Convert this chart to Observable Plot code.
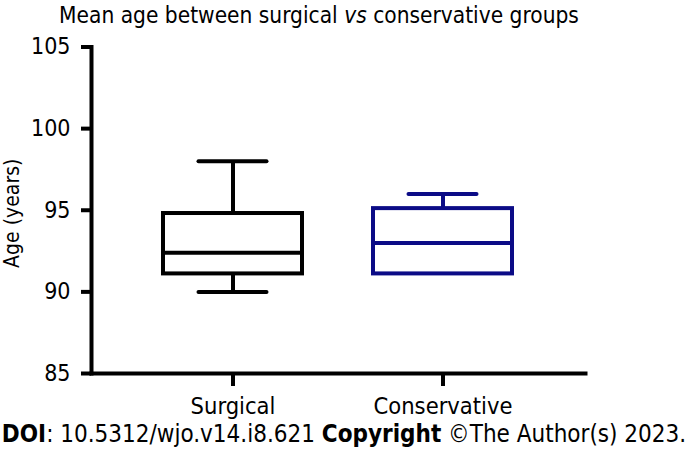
<!DOCTYPE html>
<html>
<head>
<meta charset="utf-8">
<script src="https://cdn.jsdelivr.net/npm/d3@7"></script>
<script src="https://cdn.jsdelivr.net/npm/@observablehq/plot@0.6"></script>
<style>
  html, body { margin: 0; padding: 0; background: white; }
  body { width: 688px; height: 453px; overflow: hidden; font-family: "DejaVu Sans Condensed", "DejaVu Sans", sans-serif; color: black; }
  #title { height: 32px; width: 638px; text-align: center; font-size: 22.5px; line-height: 30px; white-space: nowrap; }
  #chart svg { display: block; }
  #footer { height: 36px; width: 688px; text-align: center; font-size: 24px; line-height: 34px; white-space: nowrap; }
</style>
</head>
<body>
<div id="title">Mean age between surgical <i>vs</i> conservative groups</div>
<div id="chart"></div>
<div id="footer"><b>DOI</b>: 10.5312/wjo.v14.i8.621 <b>Copyright</b> ©The Author(s) 2023.</div>
<script>
const groups = ["Surgical", "Conservative"];
const whiskerLow = [90, 91.1];
const q1 = [91.1, 91.1];
const medians = [92.4, 93];
const q3 = [94.8, 95.1];
const whiskerHigh = [98, 96];
const colors = ["#000000", "#0b0b86"];
const yTicks = [85, 90, 95, 100, 105];
const yLabel = "Age (years)";

const data = groups.map((g, i) => ({
  group: g, lo: whiskerLow[i], q1: q1[i], median: medians[i], q3: q3[i], hi: whiskerHigh[i], color: colors[i]
}));

const chart = Plot.plot({
  width: 688, height: 385,
  marginLeft: 91, marginRight: 103, marginTop: 14.5, marginBottom: 44,
  x: {type: "band", domain: groups, paddingInner: 0.3365, paddingOuter: 0.339, label: null},
  y: {domain: [85, 105], label: null},
  color: {type: "identity"},
  style: {fontFamily: "'DejaVu Sans Condensed', 'DejaVu Sans', sans-serif", fontSize: "23px", color: "black", background: "white", overflow: "visible"},
  marks: [
    Plot.ruleX(data, {x: "group", y1: "lo", y2: "hi", stroke: "color", strokeWidth: 4}),
    Plot.barY(data, {x: "group", y1: "q1", y2: "q3", fill: "white", stroke: "color", strokeWidth: 4}),
    Plot.tickY(data, {x: "group", y: "median", stroke: "color", strokeWidth: 4}),
    Plot.tickY(data, {x: "group", y: "hi", stroke: "color", strokeWidth: 4, inset: 35.5, strokeLinecap: "round"}),
    Plot.tickY(data.filter(d => d.lo < d.q1), {x: "group", y: "lo", stroke: "color", strokeWidth: 4, inset: 35.5, strokeLinecap: "round"}),
    Plot.axisY({ticks: yTicks, tickSize: 10, tickPadding: 11, strokeWidth: 4, tickFormat: d => String(d), label: null, fontSize: 23}),
    Plot.axisX({tickSize: 13, tickPadding: 11, strokeWidth: 4, label: null, fontSize: 23.5}),
    Plot.frame({anchor: "left", strokeWidth: 4, strokeLinecap: "square"}),
    Plot.frame({anchor: "bottom", strokeWidth: 4, strokeLinecap: "square"}),
    Plot.text([yLabel], {frameAnchor: "left", rotate: -90, dx: -79, dy: 3, textAnchor: "middle", text: d => d, fontSize: 21})
  ]
});
document.getElementById("chart").appendChild(chart);
</script>
</body>
</html>
